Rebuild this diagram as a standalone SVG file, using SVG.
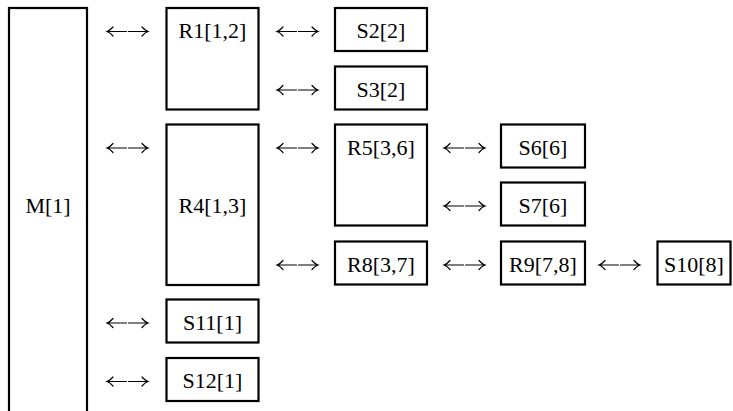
<svg xmlns="http://www.w3.org/2000/svg" xmlns:xlink="http://www.w3.org/1999/xlink" width="733" height="411" viewBox="0 0 733 411" font-family="Times New Roman">
  <style>
    .box { fill: #ffffff; stroke: #000000; stroke-width: 2.2; }
    .lbl { font-family: 'Times New Roman'; font-size: 22px; fill: #000000; text-anchor: middle; }
  </style>
  <defs>
    <g id="lr" fill="none" stroke="#000000" stroke-width="1.2" stroke-linecap="round">
      <path d="M0,0 H19.5 M6,-4.5 Q3,-1 0,0 Q3,1 6,4.5"/>
      <path d="M21.5,0 H41 M35,-4.5 Q38,-1 41,0 Q38,1 35,4.5"/>
    </g>
  </defs>
  <rect width="733" height="411" fill="#ffffff"/>

  <g id="connectors">
    <use xlink:href="#lr" x="107" y="31.5"/>
    <use xlink:href="#lr" x="107" y="148"/>
    <use xlink:href="#lr" x="107" y="323"/>
    <use xlink:href="#lr" x="107" y="381.5"/>
    <use xlink:href="#lr" x="277" y="31.5"/>
    <use xlink:href="#lr" x="277" y="90"/>
    <use xlink:href="#lr" x="277" y="148"/>
    <use xlink:href="#lr" x="277" y="265"/>
    <use xlink:href="#lr" x="444" y="148"/>
    <use xlink:href="#lr" x="444" y="206"/>
    <use xlink:href="#lr" x="444" y="265"/>
    <use xlink:href="#lr" x="599" y="265"/>
  </g>

  <g id="M1">
    <rect class="box" x="9" y="8" width="78" height="430"/>
    <text class="lbl" x="48" y="212.5">M[1]</text>
  </g>
  <g id="R1">
    <rect class="box" x="166.5" y="8" width="92" height="101.5"/>
    <text class="lbl" x="212.5" y="38">R1[1,2]</text>
  </g>
  <g id="R4">
    <rect class="box" x="166.5" y="124.5" width="92" height="160.5"/>
    <text class="lbl" x="212.5" y="212.5">R4[1,3]</text>
  </g>
  <g id="S11">
    <rect class="box" x="166.5" y="299.5" width="92" height="43"/>
    <text class="lbl" x="212.5" y="329.5">S11[1]</text>
  </g>
  <g id="S12">
    <rect class="box" x="166.5" y="358" width="92" height="43"/>
    <text class="lbl" x="212.5" y="388">S12[1]</text>
  </g>
  <g id="S2">
    <rect class="box" x="335" y="8" width="92" height="43"/>
    <text class="lbl" x="381" y="38">S2[2]</text>
  </g>
  <g id="S3">
    <rect class="box" x="335" y="66.5" width="92" height="43"/>
    <text class="lbl" x="381" y="96.5">S3[2]</text>
  </g>
  <g id="R5">
    <rect class="box" x="335" y="124.5" width="92" height="101"/>
    <text class="lbl" x="381" y="154.5">R5[3,6]</text>
  </g>
  <g id="R8">
    <rect class="box" x="335" y="241.5" width="92" height="43"/>
    <text class="lbl" x="381" y="271.5">R8[3,7]</text>
  </g>
  <g id="S6">
    <rect class="box" x="501" y="124.5" width="84" height="43"/>
    <text class="lbl" x="543" y="154.5">S6[6]</text>
  </g>
  <g id="S7">
    <rect class="box" x="501" y="182.5" width="84" height="43"/>
    <text class="lbl" x="543" y="212.5">S7[6]</text>
  </g>
  <g id="R9">
    <rect class="box" x="501" y="241.5" width="84" height="43"/>
    <text class="lbl" x="543" y="271.5">R9[7,8]</text>
  </g>
  <g id="S10">
    <rect class="box" x="657.5" y="241.5" width="73" height="43"/>
    <text class="lbl" x="694" y="271.5">S10[8]</text>
  </g>
</svg>
